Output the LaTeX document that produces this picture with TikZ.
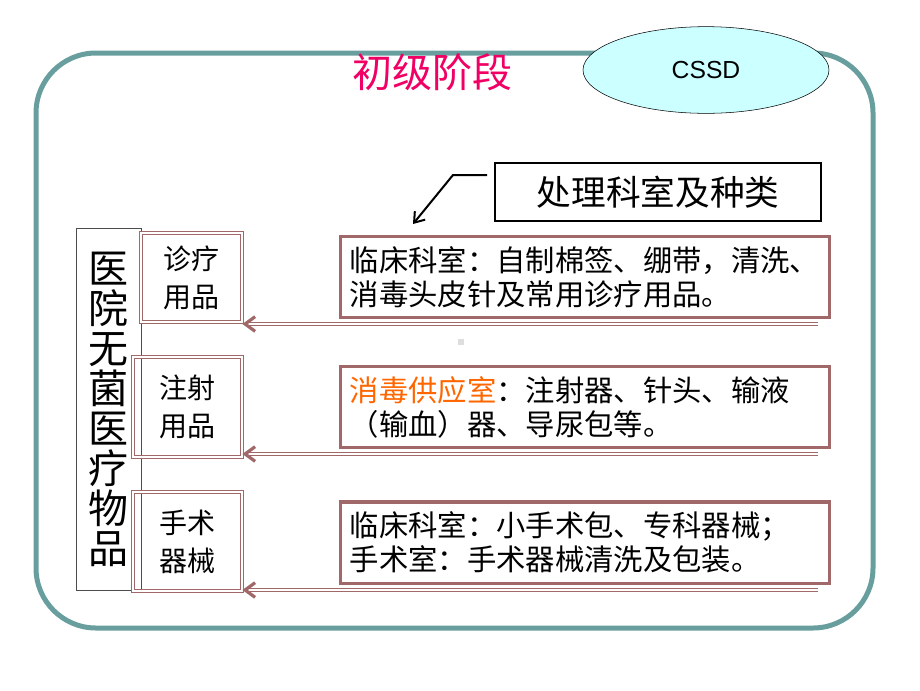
\documentclass[tikz,border=0pt]{standalone}
\usepackage{fontspec}
\setsansfont{Liberation Sans}
\newfontfamily\cjk{Noto Sans CJK SC}
\usetikzlibrary{shapes.geometric,arrows.meta}
\definecolor{rim}{RGB}{104,158,158}
\definecolor{rose}{RGB}{160,104,104}
\definecolor{stagered}{RGB}{240,0,100}
\definecolor{sky}{RGB}{204,255,255}
\definecolor{hot}{RGB}{255,102,0}

\begin{document}
\begin{tikzpicture}[x=0.75pt,y=-0.75pt]
		\tikzstyle{frame}  = [draw=rim,line width=3.75pt,rounded corners=45pt]
		\tikzstyle{cssd}   = [ellipse,draw,fill=sky,inner sep=0pt,minimum width=184.5pt,minimum height=65pt,font=\sffamily\fontsize{18.5}{20}\selectfont]
		\tikzstyle{stage}  = [text=stagered,font=\cjk\fontsize{30}{32}\selectfont]
		\tikzstyle{legend} = [rectangle,draw,line width=1.5pt,minimum width=245pt,minimum height=43.5pt,font=\cjk\fontsize{26}{28}\selectfont]
		\tikzstyle{pillar} = [rectangle,draw=black!70,line width=0.75pt,minimum width=48.75pt,minimum height=271.5pt,align=center,font=\cjk\fontsize{30}{30}\selectfont]
		\tikzstyle{kind}   = [rectangle,draw=rose,double=white,line width=0.6pt,double distance=1.3pt,align=center,font=\cjk\fontsize{21}{28.5}\selectfont]
		\tikzstyle{note}   = [rectangle,draw=rose,line width=2.5pt,text width=353pt,inner xsep=7pt,minimum height=61pt,align=left,font=\cjk\fontsize{22}{25.5}\selectfont]
		\tikzstyle{feed}   = [draw=rose,double=white,line width=0.6pt,double distance=1.2pt,-{Straight Barb[length=7.5pt,width=11pt,line width=2.4pt]}]
		
		\useasboundingbox (0,0) rectangle (920,690);
		\draw[frame] (36,53) rectangle (873,628);
		
		\node[cssd] (cssd) at (706,70) {CSSD};
		\node[stage] (stage) at (432,72) {初级阶段};
		\node[legend] (dept) at (658,192) {处理科室及种类};
		
		\node[pillar] (goods) at (108.5,409) {医\\院\\无\\菌\\医\\疗\\物\\品};
		\node[kind,minimum width=75.75pt,minimum height=66.75pt] (care) at (191.5,277.5) {诊疗\\用品};
		\node[kind,minimum width=81.75pt,minimum height=75pt] (inject) at (187.5,407) {注射\\用品};
		\node[kind,minimum width=81.75pt,minimum height=74.25pt] (surgery) at (187.5,541.5) {手术\\器械};
		
		\node[note] (ward) at (585,277) {临床科室：自制棉签、绷带，清洗、\\消毒头皮针及常用诊疗用品。};
		\node[note] (supply) at (585,407) {\textcolor{hot}{消毒供应室}：注射器、针头、输液\\（输血）器、导尿包等。};
		\node[note] (theatre) at (585,542.5) {临床科室：小手术包、专科器械；\\手术室：手术器械清洗及包装。};
		
		\coordinate (bend) at (453,175);
		\coordinate (aim) at (413,224);
		\draw[line width=1.5pt,-{Straight Barb[length=7pt,width=10pt]},shorten <=5pt] (dept.west |- bend) -- (bend) -- (aim);
		
		\coordinate (e1) at (818,324);
		\coordinate (e2) at (818,454);
		\coordinate (e3) at (818,590);
		\path[feed] (e1) -- (e1 -| care.east);
		\path[feed] (e2) -- (e2 -| inject.east);
		\path[feed] (e3) -- (e3 -| surgery.east);
		
		\fill[black!13] (458,339) rectangle (464,345);
	\end{tikzpicture}
\end{document}
